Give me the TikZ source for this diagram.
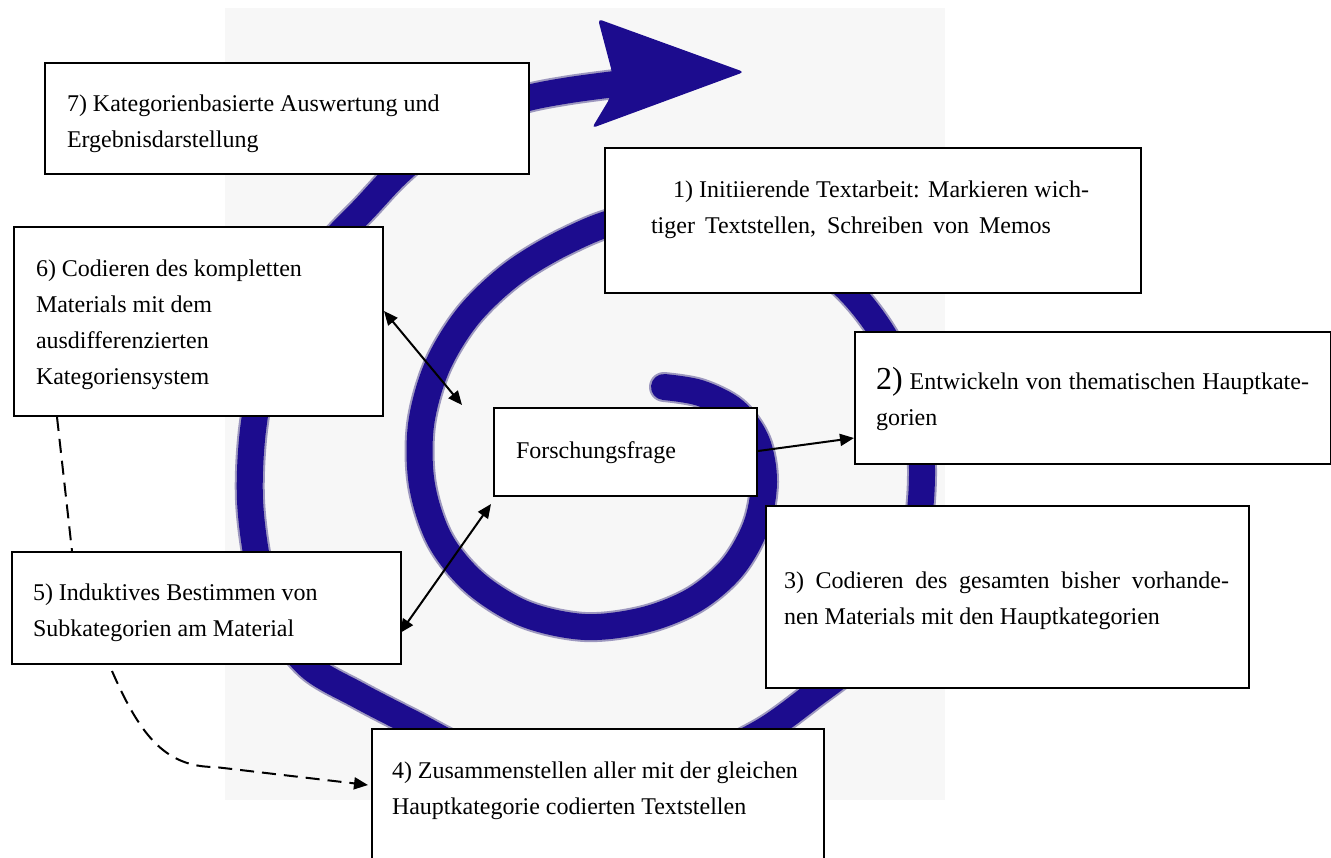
\documentclass[tikz,border=0pt]{standalone}
\usepackage{fontspec}
\setmainfont{Liberation Serif}
\usetikzlibrary{arrows.meta,calc}

\definecolor{spiralblue}{RGB}{28,12,142}
\definecolor{paper}{RGB}{247,247,247}

% box contents: width, height, top gap, lines
\newcommand\boxbody[4]{\parbox[c][#2][t]{#1}{\vspace*{#3}#4}}

\begin{document}
\begin{tikzpicture}[x=0.5pt,y=-0.5pt,
  stepbox/.style={draw=black, line width=1pt, fill=white, inner sep=0pt,
    anchor=north west, font=\fontsize{12}{18}\selectfont},
  link/.style={line width=1pt, draw=black, >={Triangle[length=7pt,width=6pt]}},
  dashlink/.style={link, dash pattern=on 7pt off 4pt},
  spiralhalo/.style={draw=spiralblue!60!gray, line width=15pt, line cap=round, line join=round, opacity=0.5},
  spiralline/.style={draw=spiralblue, line width=13pt, line cap=round, line join=round},
]
\useasboundingbox (0,0) rectangle (1331,857);
\fill[white] (0,0) rectangle (1331,857);
\fill[paper] (225,8) rectangle (945,800);

% the spiral, from its inner end outwards
\def\spiralpath{plot[smooth, tension=0.55] coordinates {
  (664,387) (700,393) (735,411) (757,442) (764,482) (756,526) (732,568)
  (694,600) (644,620) (585,627) (525,614) (475,583) (440,540) (422,485)
  (421,425) (437,367) (468,316) (512,274) (565,242) (622,220) (700,214)
  (778,238) (838,280) (875,322) (903,372) (918,425) (922,475) (917,530)
  (898,595) (862,655) (812,696) (760,733) (695,762) (620,775) (540,770)
  (470,752) (412,723) (358,695) (310,667) (278,625) (259,568) (250,500)
  (253,430) (266,365) (292,300) (330,245) (365,208) (398,173) (440,138)
  (485,112) (528,98) (570,90) (615,84)}}
\draw[spiralhalo] \spiralpath;
\draw[spiralline] \spiralpath;
% arrowhead of the spiral
\fill[spiralblue, rounded corners=2pt]
  (598,19) -- (744,72) -- (592,128) -- (610,98) -- (612,72) -- cycle;

% steps
\node[stepbox] (b7) at (44,62) {\boxbody{242pt}{55.5pt}{11.4pt}{\leftskip=11pt
  \strut 7) Kategorienbasierte Auswertung und\\
  \strut Ergebnisdarstellung}};

\node[stepbox] (b1) at (604,147) {\boxbody{268pt}{72.5pt}{11.9pt}{\leftskip=23pt
  \strut\hspace*{11pt}\makebox[208pt][s]{1) Initiierende Textarbeit: Markieren wich-}\\
  \strut\makebox[200pt][s]{tiger Textstellen, Schreiben von Memos}}};

\node[stepbox] (b6) at (13,226) {\boxbody{184.5pt}{94.5pt}{11.9pt}{\leftskip=11pt
  \strut 6) Codieren des kompletten\\
  \strut Materials mit dem\\
  \strut ausdifferenzierten\\
  \strut Kategoriensystem}};

\node[stepbox] (b2) at (854,331) {\boxbody{238pt}{66pt}{15.9pt}{\leftskip=10.5pt
  \strut\makebox[216.5pt][s]{{\fontsize{16}{18}\selectfont 2)} Entwickeln von thematischen Hauptkate-}\\
  \strut gorien}};

\node[stepbox] (ff) at (493,407) {\boxbody{131.5pt}{44pt}{12.4pt}{\leftskip=11pt
  \strut Forschungsfrage}};

\node[stepbox] (b3) at (765,505) {\boxbody{241.5pt}{91pt}{28.4pt}{\leftskip=9pt
  \strut\makebox[222.5pt][s]{3) Codieren des gesamten bisher vorhande-}\\
  \strut nen Materials mit den Hauptkategorien}};

\node[stepbox] (b4) at (371,728) {\boxbody{226pt}{75pt}{11.9pt}{\leftskip=10pt
  \strut 4) Zusammenstellen aller mit der gleichen\\
  \strut Hauptkategorie codierten Textstellen}};

\node[stepbox] (b5) at (11,551) {\boxbody{194.5pt}{56pt}{11.4pt}{\leftskip=10.5pt
  \strut 5) Induktives Bestimmen von\\
  \strut Subkategorien am Material}};

% connectors
\coordinate (h1) at (462,405);
\coordinate (h2) at (491,504);
\draw[link,<->] ($(b6.north east)+(0,85)$) -- (h1);
\draw[link,<->] ($(b5.north east)+(-2,82)$) -- (h2);
\draw[link,->] ($(ff.north east)+(0,44)$) -- ($(b2.north west)+(0,107)$);
\draw[dashlink] ($(b6.south west)+(44,0)$) -- ($(b5.north west)+(61,0)$);
\draw[dashlink,->] ($(b5.south west)+(101,6)$) .. controls (140,735) and (165,767) .. (215,767)
  -- ($(b4.north west)+(-3,57)$);
\end{tikzpicture}
\end{document}
